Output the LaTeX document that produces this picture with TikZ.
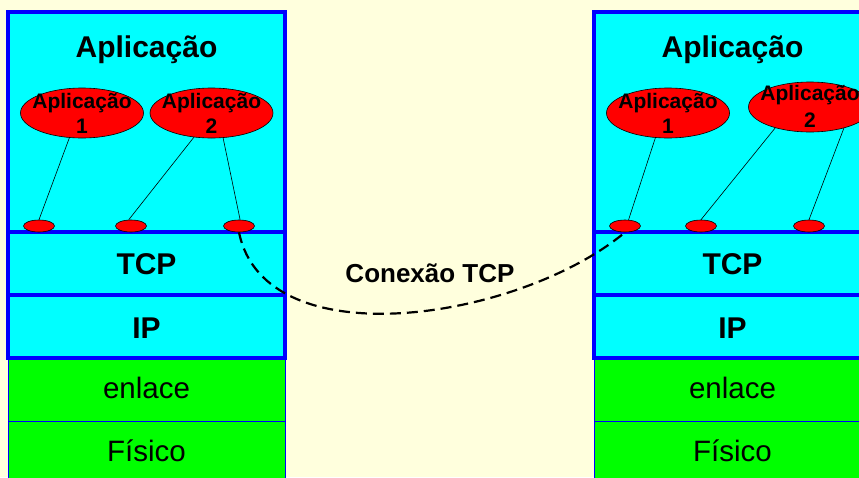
\documentclass[tikz,border=0pt]{standalone}
\usepackage{fontspec}
\setmainfont{Liberation Sans}
\usetikzlibrary{shapes.geometric}
\definecolor{bg}{HTML}{FFFFDD}
\definecolor{cy}{HTML}{00FFFF}
\definecolor{gr}{HTML}{00FF00}
\definecolor{bl}{HTML}{0000FF}
\definecolor{rd}{HTML}{FF0000}
\begin{document}
\begin{tikzpicture}[x=1pt,y=-1pt,
  layerbox/.style={draw=bl,line width=4pt,fill=cy,inner sep=0pt,minimum width=277pt},
  linkbox/.style={draw=bl,line width=0.8pt,fill=gr,inner sep=0pt,minimum width=277pt},
  titletext/.style={anchor=base,inner sep=0pt,font=\fontsize{30}{35}\selectfont\bfseries},
  layertext/.style={anchor=base,inner sep=0pt,font=\fontsize{30}{35}\selectfont\bfseries},
  linktext/.style={anchor=base,inner sep=0pt,font=\fontsize{29.5}{35}\selectfont},
  apptext/.style={anchor=base,inner sep=0pt,font=\fontsize{21}{25}\selectfont\bfseries},
  appell/.style={ellipse,draw=black,line width=0.6pt,fill=rd,inner sep=0pt,minimum width=123pt,minimum height=50pt},
  port/.style={ellipse,draw=black,line width=0.6pt,fill=rd,inner sep=0pt,minimum width=31pt,minimum height=12pt},
  conn/.style={draw=black,line width=0.6pt},
  tcpconn/.style={draw=black,line width=2.2pt,dash pattern=on 11pt off 6pt}]
\useasboundingbox[fill=bg] (0,0) rectangle (859,477);
\begin{scope}
\clip (0,0) rectangle (859,477);
% left stack
\node[linkbox,minimum height=63pt] (Lenl) at (146.5,389.5) {};
\node[linkbox,minimum height=63pt] (Lfis) at (146.5,452.5) {};
\node[layerbox,minimum height=220pt] (Lapp) at (146.5,122) {};
\node[layerbox,minimum height=63pt] (Ltcp) at (146.5,263.5) {};
\node[layerbox,minimum height=63pt] (Lip) at (146.5,326.5) {};
\node[titletext] (LappT) at (146.5,57) {Aplicação};
\node[layertext] (LtcpT) at (146.5,274) {TCP};
\node[layertext] (LipT) at (146.5,338) {IP};
\node[linktext] (LenlT) at (146.5,398) {enlace};
\node[linktext] (LfisT) at (146.5,461) {Físico};
% right stack
\node[linkbox,minimum height=63pt] (Renl) at (732.5,389.5) {};
\node[linkbox,minimum height=63pt] (Rfis) at (732.5,452.5) {};
\node[layerbox,minimum height=220pt] (Rapp) at (732.5,122) {};
\node[layerbox,minimum height=63pt] (Rtcp) at (732.5,263.5) {};
\node[layerbox,minimum height=63pt] (Rip) at (732.5,326.5) {};
\node[titletext] (RappT) at (732.5,57) {Aplicação};
\node[layertext] (RtcpT) at (732.5,274) {TCP};
\node[layertext] (RipT) at (732.5,338) {IP};
\node[linktext] (RenlT) at (732.5,398) {enlace};
\node[linktext] (RfisT) at (732.5,461) {Físico};
% left applications
\node[appell] (e1) at (82,113) {};
\node[appell] (e2) at (211.5,113) {};
\node[apptext] (e1a) at (82,108) {Aplicação};
\node[apptext] (e1b) at (82,133) {1};
\node[apptext] (e2a) at (211.5,108) {Aplicação};
\node[apptext] (e2b) at (211.5,133) {2};
\node[port] (p1) at (39,226) {};
\node[port] (p2) at (131,226) {};
\node[port] (p3) at (239,226) {};
\draw[conn] (e1.-117) -- (p1.north);
\draw[conn] (e2.-126) -- (p2.110);
\draw[conn] (e2.-65) -- (p3.80);
% right applications
\node[appell] (e3) at (668,113) {};
\node[appell] (e4) at (810,107) {};
\node[apptext] (e3a) at (668,108) {Aplicação};
\node[apptext] (e3b) at (668,133) {1};
\node[apptext] (e4a) at (810,100) {Aplicação};
\node[apptext] (e4b) at (810,127) {2};
\node[port] (p4) at (625,226) {};
\node[port] (p5) at (701,226) {};
\node[port] (p6) at (809,226) {};
\draw[conn] (e3.-117) -- (p4.60);
\draw[conn] (e4.-149) -- (p5.north);
\draw[conn] (e4.-32) -- (p6.north);
% TCP connection
\draw[tcpconn] (p3.south) .. controls (265,360) and (520,320) .. (p4.south);
\node[anchor=base,inner sep=0pt,font=\fontsize{26}{31}\selectfont\bfseries] (connT) at (430,282) {Conexão TCP};
\end{scope}
\end{tikzpicture}
\end{document}
